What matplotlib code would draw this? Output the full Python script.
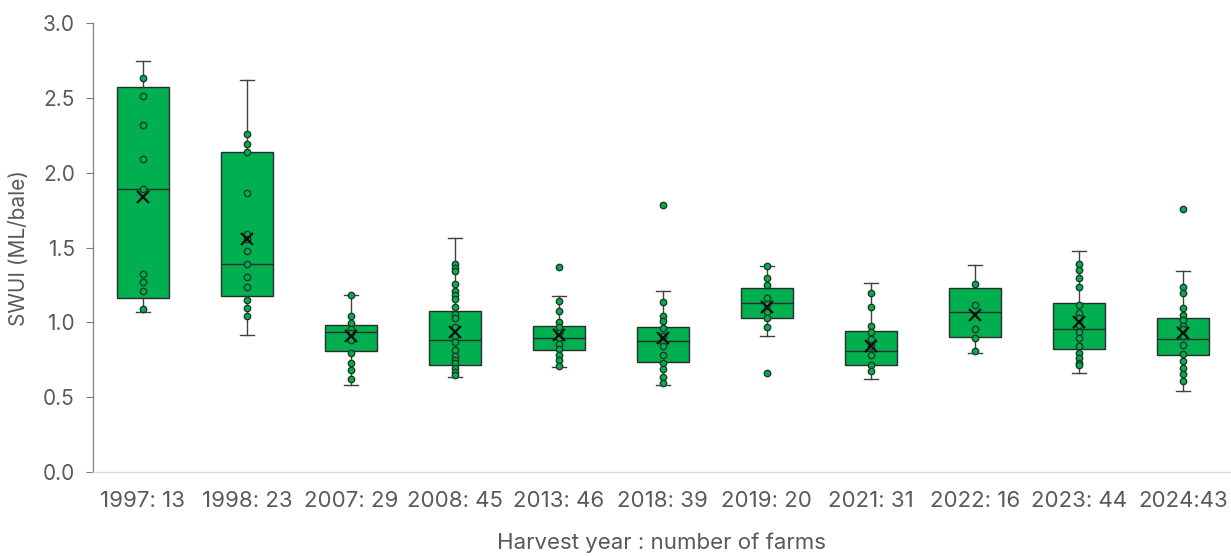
import matplotlib
matplotlib.use("Agg")
import matplotlib.pyplot as plt

# Harvest year : number of farms
labels = ["1997: 13", "1998: 23", "2007: 29", "2008: 45", "2013: 46", "2018: 39",
          "2019: 20", "2021: 31", "2022: 16", "2023: 44", "2024:43"]

# Box-and-whisker summary (ML/bale)
whisker_low = [1.070, 0.915, 0.581, 0.635, 0.699, 0.583, 0.911, 0.619, 0.797, 0.663, 0.539]
q1 = [1.160, 1.178, 0.810, 0.714, 0.815, 0.735, 1.031, 0.713, 0.900, 0.822, 0.784]
median = [1.888, 1.392, 0.937, 0.884, 0.893, 0.877, 1.127, 0.806, 1.067, 0.953, 0.888]
q3 = [2.570, 2.135, 0.984, 1.073, 0.977, 0.969, 1.231, 0.942, 1.227, 1.127, 1.029]
whisker_high = [2.747, 2.619, 1.184, 1.561, 1.178, 1.207, 1.376, 1.263, 1.385, 1.476, 1.345]
mean = [1.835, 1.554, 0.908, 0.937, 0.915, 0.893, 1.104, 0.842, 1.049, 1.004, 0.931]

# Individual farm values shown as points
farms_1997 = [2.634, 2.512, 2.320, 2.093, 1.888, 1.323, 1.269, 1.207, 1.087]
farms_1998 = [2.258, 2.189, 2.135, 1.866, 1.590, 1.554, 1.474, 1.392, 1.300, 1.238,
              1.149, 1.096, 1.042]
farms_2007 = [1.184, 1.042, 0.998, 0.953, 0.926, 0.882, 0.793, 0.730, 0.681, 0.623]
farms_2008 = [1.387, 1.365, 1.343, 1.256, 1.211, 1.182, 1.156, 1.104, 1.058, 1.027,
              0.971, 0.908, 0.870, 0.815, 0.777, 0.748, 0.726, 0.697, 0.670, 0.648]
farms_2013 = [1.372, 1.140, 1.078, 1.004, 0.971, 0.931, 0.893, 0.855, 0.820, 0.784,
              0.746, 0.710]
farms_2018 = [1.784, 1.138, 1.044, 1.009, 0.960, 0.911, 0.864, 0.842, 0.782, 0.730,
              0.686, 0.637, 0.597]
farms_2019 = [1.376, 1.296, 1.247, 1.164, 1.120, 1.071, 1.029, 0.969, 0.661]
farms_2021 = [1.196, 1.102, 0.977, 0.933, 0.888, 0.844, 0.784, 0.713, 0.675]
farms_2022 = [1.254, 1.116, 0.955, 0.897, 0.808]
farms_2023 = [1.387, 1.352, 1.294, 1.236, 1.116, 1.060, 1.027, 0.982, 0.937, 0.893,
              0.844, 0.793, 0.759, 0.730, 0.715]
farms_2024 = [1.757, 1.236, 1.196, 1.093, 1.049, 1.013, 0.975, 0.953, 0.908, 0.848,
              0.786, 0.744, 0.693, 0.655, 0.610]

farm_points = [farms_1997, farms_1998, farms_2007, farms_2008, farms_2013, farms_2018,
               farms_2019, farms_2021, farms_2022, farms_2023, farms_2024]

GREEN = "#00B050"
EDGE = "#2b2b2b"
TEXT = "#595959"

plt.rcParams["font.family"] = ["Inter", "DejaVu Sans"]

fig = plt.figure(figsize=(12.31, 5.56), dpi=100)
ax = fig.add_axes([0.0755, 0.1511, 0.9235, 0.8075])

stats = []
for i in range(len(labels)):
    stats.append(dict(label=labels[i], whislo=whisker_low[i], q1=q1[i], med=median[i],
                      q3=q3[i], whishi=whisker_high[i], mean=mean[i], fliers=[]))

positions = list(range(len(labels)))
ax.bxp(stats, positions=positions, widths=0.5, patch_artist=True, showfliers=False,
       showmeans=False,
       boxprops=dict(facecolor=GREEN, edgecolor=EDGE, linewidth=1.0),
       medianprops=dict(color=EDGE, linewidth=1.0),
       whiskerprops=dict(color="#404040", linewidth=1.0),
       capprops=dict(color="#404040", linewidth=1.0),
       capwidths=0.14, zorder=2)

for i, pts in enumerate(farm_points):
    ax.plot([positions[i]] * len(pts), pts, linestyle="none", marker="o",
            markersize=4.6, markerfacecolor=GREEN, markeredgecolor="#1e3b25",
            markeredgewidth=1.0, zorder=3)

ax.plot(positions, mean, linestyle="none", marker="x", markersize=8.5,
        markeredgewidth=1.6, color="#111111", zorder=4)

ax.set_xlim(-0.48, 10.45)
ax.set_ylim(0, 3.0)
ax.set_yticks([0.0, 0.5, 1.0, 1.5, 2.0, 2.5, 3.0])
ax.set_yticklabels(["0.0", "0.5", "1.0", "1.5", "2.0", "2.5", "3.0"])
ax.set_xticks(positions)
ax.set_xticklabels(labels)

ax.tick_params(axis="y", direction="out", length=5, width=0.8, color="#7f7f7f",
               labelsize=15, labelcolor=TEXT, pad=8)
ax.tick_params(axis="x", length=0, labelsize=16, labelcolor=TEXT, pad=14)

for side in ("top", "right"):
    ax.spines[side].set_visible(False)
ax.spines["left"].set_color("#7f7f7f")
ax.spines["left"].set_linewidth(0.9)
ax.spines["bottom"].set_color("#d9d9d9")
ax.spines["bottom"].set_linewidth(1.0)

ax.set_ylabel("SWUI (ML/bale)", fontsize=15, color=TEXT, labelpad=10)
ax.set_xlabel("Harvest year : number of farms", fontsize=16, color=TEXT, labelpad=15)

fig.savefig("out.png", dpi=100)
